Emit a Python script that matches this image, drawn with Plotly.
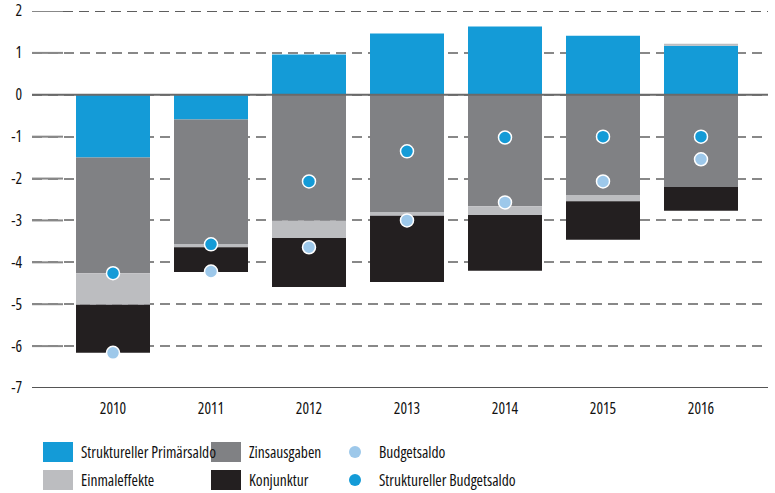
import plotly.graph_objects as go

years = ["2010", "2011", "2012", "2013", "2014", "2015", "2016"]
struct_primaer = [-1.50, -0.59, 0.96, 1.46, 1.63, 1.41, 1.17]
zinsausgaben = [-2.76, -2.97, -3.01, -2.80, -2.66, -2.39, -2.20]
einmaleffekte = [-0.75, -0.08, -0.41, -0.09, -0.21, -0.15, 0.05]
konjunktur = [-1.15, -0.59, -1.17, -1.58, -1.33, -0.92, -0.57]
budgetsaldo = [-6.16, -4.22, -3.64, -3.00, -2.57, -2.07, -1.54]
struct_budgetsaldo = [-4.26, -3.57, -2.07, -1.35, -1.02, -1.00, -1.00]
y_ticks = [2, 1, 0, -1, -2, -3, -4, -5, -6, -7]

C_BLUE = "#149bd7"
C_GRAY = "#808184"
C_LGRAY = "#bcbdc0"
C_BLACK = "#231f20"
C_LBLUE = "#9dc8ea"
TXT = "#111111"
FONT = "Open Sans, sans-serif"
GRID = "#888888"
DASH = "10px,6px"


def cond(s):
    return f'<span style="font-stretch:condensed">{s}</span>'


W, H = 775, 493
L, R, T, B = 32, 7, 11, 105
PW, PH = W - L - R, H - T - B


def px(x):
    return (x - L) / PW


def py(y):
    return (H - B - y) / PH


fig = go.Figure()
fig.add_bar(x=years, y=struct_primaer, name="Struktureller Primärsaldo", marker_color=C_BLUE)
fig.add_bar(x=years, y=zinsausgaben, name="Zinsausgaben", marker_color=C_GRAY)
fig.add_bar(x=years, y=einmaleffekte, name="Einmaleffekte", marker_color=C_LGRAY)
fig.add_bar(x=years, y=konjunktur, name="Konjunktur", marker_color=C_BLACK)
for tr in fig.data:
    tr.marker.line.width = 0
fig.add_scatter(x=years, y=budgetsaldo, mode="markers", name="Budgetsaldo",
                marker=dict(size=13, color=C_LBLUE, line=dict(color="white", width=1.5)))
fig.add_scatter(x=years, y=struct_budgetsaldo, mode="markers", name="Struktureller Budgetsaldo",
                marker=dict(size=13, color=C_BLUE, line=dict(color="white", width=1.5)))

first_center = 113
step = 98
x0 = -(first_center - L) / step
x1 = x0 + PW / step

shapes = []
for v in y_ticks:
    if v == 0:
        shapes.append(dict(type="line", xref="paper", yref="y", x0=0, x1=1, y0=v, y1=v,
                           line=dict(color="#6a6a6a", width=2), layer="above"))
    elif v == -7:
        shapes.append(dict(type="line", xref="paper", yref="y", x0=0, x1=1, y0=v, y1=v,
                           line=dict(color="#555555", width=1.8), layer="below"))
    else:
        shapes.append(dict(type="line", xref="paper", yref="y", x0=0, x1=px(63), y0=v, y1=v,
                           line=dict(color=GRID, width=2), layer="below"))
        if v == max(y_ticks):
            # top gridline sits on the plot edge, which plotly omits; draw it explicitly
            shapes.append(dict(type="line", xref="paper", yref="y", x0=px(63), x1=1, y0=v, y1=v,
                               line=dict(color="#5e5e5e", width=2, dash=DASH), layer="below"))

annotations = []
legend_items = [
    ("rect", C_BLUE, "Struktureller Primärsaldo", 43, 452),
    ("rect", C_LGRAY, "Einmaleffekte", 43, 480),
    ("rect", C_GRAY, "Zinsausgaben", 211, 452),
    ("rect", C_BLACK, "Konjunktur", 211, 480),
    ("circle", C_LBLUE, "Budgetsaldo", 355, 452),
    ("circle", C_BLUE, "Struktureller Budgetsaldo", 355, 480),
]
for kind, col, label, lx, ly in legend_items:
    if kind == "rect":
        shapes.append(dict(type="rect", xref="paper", yref="paper", x0=px(lx), x1=px(lx + 30),
                           y0=py(ly + 10), y1=py(ly - 10), fillcolor=col, line=dict(width=0)))
        tx = lx + 36
    else:
        shapes.append(dict(type="circle", xref="paper", yref="paper", x0=px(lx - 6), x1=px(lx + 6),
                           y0=py(ly + 6), y1=py(ly - 6), fillcolor=col, line=dict(width=0)))
        tx = 377
    annotations.append(dict(xref="paper", yref="paper", x=px(tx), y=py(ly), text=cond(label),
                            showarrow=False, xanchor="left", yanchor="middle",
                            font=dict(family=FONT, size=15.5, color=TXT)))

fig.update_layout(
    width=W, height=H,
    margin=dict(l=L, r=R, t=T, b=B),
    barmode="relative",
    bargap=0.245,
    plot_bgcolor="white", paper_bgcolor="white",
    showlegend=False,
    font=dict(family=FONT, size=15.5, color=TXT),
    shapes=shapes,
    annotations=annotations,
    xaxis=dict(type="category", range=[x0, x1], showgrid=False, showline=False, zeroline=False,
               ticks="", ticklabelstandoff=9, automargin=False,
               tickvals=years, ticktext=[cond(y) for y in years],
               tickfont=dict(family=FONT, size=15.5, color=TXT)),
    yaxis=dict(range=[-7, 2], tickvals=y_ticks, ticktext=[cond(str(v)) for v in y_ticks],
               showgrid=True, gridcolor=GRID, gridwidth=2, griddash=DASH,
               zeroline=False, showline=False, ticks="", ticklabelstandoff=9, automargin=False,
               ticklabeloverflow="allow",
               tickfont=dict(family=FONT, size=15.5, color=TXT)),
)

fig.write_html("out.html", config={"displayModeBar": False},
               post_script="document.body.style.margin='0px';")
